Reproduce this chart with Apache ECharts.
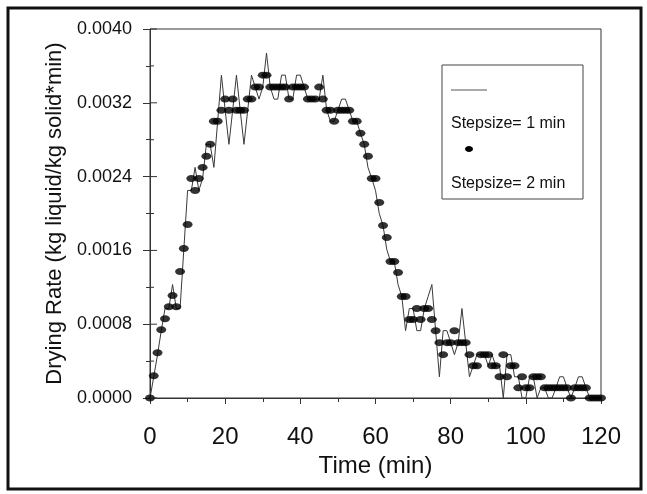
<!DOCTYPE html>
<html>
<head>
<meta charset="utf-8">
<script src="https://cdn.jsdelivr.net/npm/echarts@6/dist/echarts.min.js"></script>
<style>
  html, body { margin: 0; padding: 0; background: #fff; }
  #chart { width: 647px; height: 494px; }
</style>
</head>
<body>
<div id="chart"></div>
<script>
// sampling times, one per minute
const minutes = Array.from({ length: 121 }, (_, i) => i);

// stepsize = 1 min (thin line)
const rateStep1 = [
  0, 0.00023, 0.00047, 0.00073, 0.00097, 0.00097, 0.00123, 0.00097, 0.00097, 0.00161,
  0.00225, 0.00225, 0.0025, 0.00225, 0.00238, 0.00275, 0.00275, 0.0025, 0.003, 0.0035,
  0.00312, 0.00275, 0.00312, 0.0035, 0.00312, 0.00275, 0.00312, 0.0035, 0.00337, 0.00324,
  0.00337, 0.00374, 0.00337, 0.00324, 0.00324, 0.0035, 0.0035, 0.00324, 0.00324, 0.0035,
  0.0035, 0.00337, 0.00324, 0.00324, 0.00324, 0.00324, 0.0035, 0.00312, 0.003, 0.003,
  0.00312, 0.00324, 0.00324, 0.00312, 0.003, 0.003, 0.00287, 0.00275, 0.0025, 0.00238,
  0.00225, 0.002, 0.00187, 0.00161, 0.00148, 0.00148, 0.00123, 0.0011, 0.00073, 0.00097,
  0.00097, 0.00073, 0.00073, 0.00097, 0.0011, 0.00123, 0.00073, 0.00023, 0.00073, 0.00073,
  0.0006, 0.00047, 0.0006, 0.00097, 0.0006, 0.00023, 0.00035, 0.00047, 0.00047, 0.00047,
  0.00035, 0.00047, 0.00035, 0.00035, 0, 0.00047, 0.00047, 0.00023, 0.00023, 0,
  0, 0.00023, 0.00023, 0, 0.00011, 0.00011, 0, 0, 0.00011, 0.00023,
  0.00023, 0.00011, 0, 0.00011, 0.00023, 0.00023, 0.00011, 0, 0, 0,
  0
];

// stepsize = 2 min (dots)
const rateStep2 = [
  0, 0.00024, 0.00049, 0.00074, 0.00086, 0.00099, 0.00111, 0.00099, 0.00137, 0.00162,
  0.00188, 0.00238, 0.00225, 0.00238, 0.0025, 0.00262, 0.00275, 0.003, 0.003, 0.00312,
  0.00324, 0.00312, 0.00324, 0.00312, 0.00312, 0.00312, 0.00324, 0.00324, 0.00337, 0.00337,
  0.0035, 0.0035, 0.00337, 0.00337, 0.00337, 0.00337, 0.00337, 0.00324, 0.00337, 0.00337,
  0.00337, 0.00337, 0.00324, 0.00324, 0.00324, 0.00337, 0.00324, 0.00312, 0.00312, 0.003,
  0.00312, 0.00312, 0.00312, 0.00312, 0.003, 0.003, 0.00287, 0.00275, 0.00262, 0.00238,
  0.00238, 0.00212, 0.00187, 0.00174, 0.00148, 0.00148, 0.00136, 0.0011, 0.0011, 0.00085,
  0.00085, 0.00097, 0.00085, 0.00097, 0.00097, 0.00085, 0.00073, 0.0006, 0.00047, 0.0006,
  0.0006, 0.00073, 0.0006, 0.0006, 0.0006, 0.00047, 0.00035, 0.00035, 0.00047, 0.00047,
  0.00047, 0.00035, 0.00035, 0.00023, 0.00047, 0.00023, 0.00035, 0.00035, 0.00011, 0.00023,
  0.00011, 0.00011, 0.00023, 0.00023, 0.00023, 0.00011, 0.00011, 0.00011, 0.00011, 0.00011,
  0.00011, 0.00011, 0, 0.00011, 0.00011, 0.00011, 0.00011, 0, 0, 0,
  0
];

const yTicks = [0, 0.0008, 0.0016, 0.0024, 0.0032, 0.004];
const yMinorTicks = [0.0004, 0.0012, 0.002, 0.0028, 0.0036];
const xTicks = [0, 20, 40, 60, 80, 100, 120];

const font = 'Liberation Sans, Arial, sans-serif';
const ink = '#111';

const chart = echarts.init(document.getElementById('chart'));

// the reference's y ticks cross the axis: this draws the half inside the plot
function innerTick(params, api) {
  const p = api.coord([0, api.value(1)]);
  const len = api.value(2);
  return {
    type: 'line',
    shape: { x1: p[0], y1: p[1], x2: p[0] + len, y2: p[1] },
    style: { stroke: '#333', lineWidth: 1 },
  };
}

chart.setOption({
  backgroundColor: '#fff',
  animation: false,
  grid: { left: 150, right: 46, top: 29, bottom: 96, show: true, borderColor: '#333', borderWidth: 1 },
  xAxis: {
    type: 'value',
    min: xTicks[0],
    max: xTicks[xTicks.length - 1],
    interval: xTicks[1] - xTicks[0],
    name: 'Time (min)',
    nameLocation: 'middle',
    nameGap: 54,
    nameTextStyle: { fontFamily: font, fontSize: 24, color: ink },
    axisLine: { lineStyle: { color: '#333', width: 1 } },
    axisTick: { length: 6, lineStyle: { color: '#333' } },
    minorTick: { show: true, splitNumber: 2, length: 4, lineStyle: { color: '#333' } },
    axisLabel: { fontFamily: font, fontSize: 24, color: ink, margin: 27 },
    splitLine: { show: false },
  },
  yAxis: {
    type: 'value',
    min: yTicks[0],
    max: yTicks[yTicks.length - 1],
    interval: yTicks[1] - yTicks[0],
    name: 'Drying Rate (kg liquid/kg solid*min)',
    nameLocation: 'middle',
    nameGap: 68,
    nameTextStyle: { fontFamily: font, fontSize: 22, color: ink },
    axisLine: { lineStyle: { color: '#333', width: 1 } },
    axisTick: { length: 7, lineStyle: { color: '#333' } },
    minorTick: { show: true, splitNumber: 2, length: 4, lineStyle: { color: '#333' } },
    axisLabel: {
      fontFamily: font, fontSize: 18, color: ink, margin: 18,
      formatter: (v) => v.toFixed(4),
    },
    splitLine: { show: false },
  },
  series: [
    {
      name: 'Stepsize= 1 min',
      type: 'line',
      data: minutes.map((t, i) => [t, rateStep1[i]]),
      showSymbol: false,
      lineStyle: { color: '#3a3a3a', width: 1 },
      z: 2,
    },
    {
      name: 'Stepsize= 2 min',
      type: 'scatter',
      data: minutes.map((t, i) => [t, rateStep2[i]]),
      symbol: 'circle',
      symbolSize: [10, 7],
      itemStyle: { color: '#000' },
      z: 3,
    },
    {
      type: 'custom',
      renderItem: innerTick,
      clip: false,
      silent: true,
      data: yTicks.map((v) => [0, v, 7]).concat(yMinorTicks.map((v) => [0, v, 4])),
      z: 4,
    },
  ],
  graphic: [
    // outer frame
    { type: 'rect', shape: { x: 8, y: 8, width: 633, height: 481 }, style: { fill: null, stroke: '#111', lineWidth: 3 }, silent: true },
    // legend box
    { type: 'rect', shape: { x: 442, y: 65, width: 141, height: 134 }, style: { fill: '#fff', stroke: '#444', lineWidth: 1 }, z: 10 },
    { type: 'line', shape: { x1: 451, y1: 90, x2: 487, y2: 90 }, style: { stroke: '#555', lineWidth: 1 }, z: 11 },
    { type: 'text', x: 451, y: 124, style: { text: 'Stepsize= 1 min', font: '16px ' + font, fill: ink, verticalAlign: 'middle' }, z: 11 },
    { type: 'ellipse', shape: { cx: 469, cy: 149, rx: 4, ry: 3 }, style: { fill: '#000' }, z: 11 },
    { type: 'text', x: 451, y: 184, style: { text: 'Stepsize= 2 min', font: '16px ' + font, fill: ink, verticalAlign: 'middle' }, z: 11 },
  ],
});
</script>
</body>
</html>
